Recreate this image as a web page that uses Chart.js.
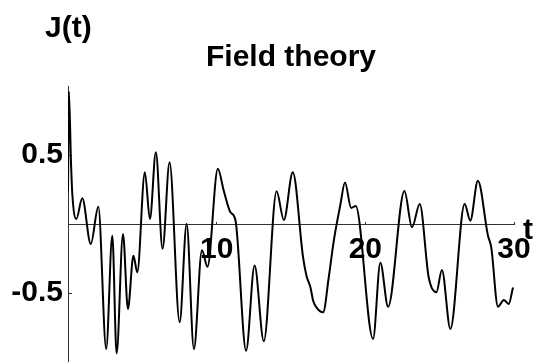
<!DOCTYPE html>
<html><head><meta charset="utf-8">
<script src="https://cdn.jsdelivr.net/npm/chart.js@4/dist/chart.umd.min.js"></script>
<style>html,body{margin:0;padding:0;background:#fff;overflow:hidden}#wrap{width:540px;height:362px}</style>
</head><body><div id="wrap"><canvas id="c" width="540" height="362"></canvas></div>
<script>
const titleText = 'Field theory';
const yAxisName = 'J(t)';
const xAxisName = 't';
const times = [0, 0.06, 0.2, 0.29, 0.56, 0.96, 1.53, 2.04, 2.57, 2.98, 3.27, 3.70, 4.03, 4.40, 4.66, 5.17, 5.51, 5.91, 6.36, 6.83, 7.51, 7.98, 8.47, 9.01, 9.38, 10.08, 10.48, 10.93, 11.27, 11.98, 12.55, 13.17, 14.03, 14.52, 15.12, 15.81, 16.04, 16.31, 16.49, 16.75, 17.16, 17.54, 17.88, 18.33, 18.63, 19.05, 19.35, 20.52, 21.01, 21.53, 22.63, 23.14, 23.66, 24.26, 24.78, 25.15, 25.72, 26.68, 27.06, 27.57, 28.25, 28.47, 28.92, 29.32, 29.64, 29.93];
const values = [0.24, 0.96, 0.45, 0.217, 0.036, 0.186, -0.145, 0.125, -0.906, -0.085, -0.937, -0.072, -0.616, -0.23, -0.35, 0.375, 0.036, 0.52, -0.18, 0.447, -0.712, 0.0, -0.906, -0.19, -0.31, 0.40, 0.24, 0.085, 0.024, -0.918, -0.30, -0.85, 0.237, 0.029, 0.375, -0.24, -0.375, -0.46, -0.556, -0.61, -0.64, -0.386, -0.12, 0.145, 0.30, 0.116, 0.13, -0.833, -0.28, -0.60, 0.24, -0.024, 0.145, -0.386, -0.495, -0.333, -0.76, 0.145, 0.024, 0.314, -0.085, -0.17, -0.60, -0.55, -0.58, -0.46];
const xTickValues = [10, 20, 30];
const yTickValues = [-0.5, 0.5];

const FONT = "'Liberation Sans', Arial, Helvetica, sans-serif";

const extraLabels = {
  id: 'extraLabels',
  afterDraw(chart) {
    const ctx = chart.ctx;
    const xs = chart.scales.x, ys = chart.scales.y;
    ctx.save();
    ctx.font = 'bold 30px ' + FONT;
    ctx.fillStyle = '#000';
    ctx.textAlign = 'left';
    ctx.textBaseline = 'alphabetic';
    ctx.fillText(yAxisName, 45, 37);
    ctx.fillText(xAxisName, xs.right + 9, ys.getPixelForValue(0) + 15);
    ctx.restore();
  }
};

new Chart(document.getElementById('c'), {
  type: 'line',
  data: {
    datasets: [{
      data: times.map((t, i) => ({x: t, y: values[i]})),
      borderColor: '#000',
      borderWidth: 2,
      pointRadius: 0,
      fill: false,
      cubicInterpolationMode: 'monotone'
    }]
  },
  options: {
    responsive: false,
    animation: false,
    devicePixelRatio: 1,
    layout: {padding: {left: 0, right: 26, top: 0, bottom: 0}},
    plugins: {
      legend: {display: false},
      tooltip: {enabled: false},
      title: {
        display: true,
        text: titleText,
        fullSize: false,
        color: '#000',
        font: {family: FONT, size: 30, weight: 'bold'},
        padding: {top: 40, bottom: 10}
      }
    },
    scales: {
      x: {
        type: 'linear',
        min: 0, max: 30,
        position: {y: 0},
        afterBuildTicks: s => { s.ticks = xTickValues.map(v => ({value: v})); },
        afterFit: s => { s.paddingLeft = 0; s.paddingRight = 0; },
        grid: {drawOnChartArea: false, drawTicks: true, tickLength: -3, color: '#333', tickWidth: 1},
        border: {display: true, color: '#333', width: 1},
        ticks: {
          color: '#000', padding: 11, maxRotation: 0, autoSkip: false,
          font: {family: FONT, size: 30, weight: 'bold'},
          callback: v => String(v)
        }
      },
      y: {
        type: 'linear',
        min: -1, max: 1,
        position: 'left',
        afterBuildTicks: s => { s.ticks = yTickValues.map(v => ({value: v})); },
        afterFit: s => { s.width = 68; s.paddingTop = 0; s.paddingBottom = 0; },
        grid: {drawOnChartArea: false, drawTicks: true, tickLength: -4, color: '#333', tickWidth: 1},
        border: {display: true, color: '#333', width: 1},
        ticks: {
          color: '#000', padding: 9, autoSkip: false,
          font: {family: FONT, size: 30, weight: 'bold'},
          callback: v => String(v)
        }
      }
    }
  },
  plugins: [extraLabels]
});
</script>
</body></html>
